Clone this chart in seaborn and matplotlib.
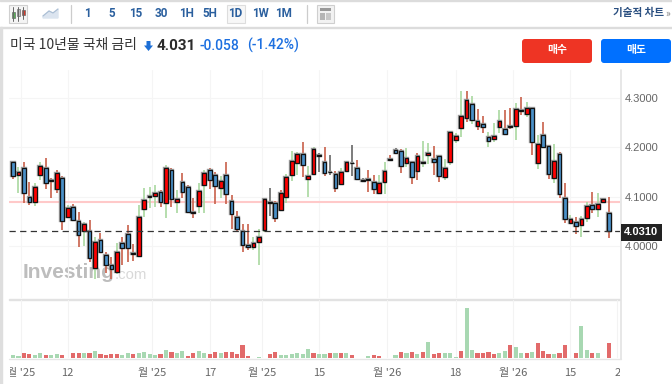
import matplotlib
matplotlib.use('Agg')
import matplotlib.pyplot as plt
import numpy as np
import pandas as pd
import seaborn as sns
from matplotlib.patches import FancyBboxPatch, Rectangle
from matplotlib.transforms import Bbox

# **************************************************************************

open_price = [
    4.170, 4.144, 4.159, 4.100, 4.089, 4.145, 4.159, 4.134, 4.115, 4.137,
    4.059, 4.079, 4.052, 4.032, 4.032, 3.957, 4.012, 3.982, 3.963, 3.949,
    4.007, 4.024, 3.986, 3.980, 4.075, 4.102, 4.102, 4.110, 4.087, 4.155,
    4.089, 4.130, 4.119, 4.070, 4.081, 4.123, 4.155, 4.145, 4.117, 4.145,
    4.092, 4.059, 4.032, 4.003, 3.998, 4.009, 4.034, 4.089, 4.088, 4.073,
    4.100, 4.145, 4.168, 4.186, 4.136, 4.147, 4.184, 4.171, 4.151, 4.147,
    4.126, 4.153, 4.169, 4.159, 4.134, 4.136, 4.130, 4.108, 4.130, 4.177,
    4.195, 4.192, 4.169, 4.171, 4.153, 4.170, 4.184, 4.176, 4.182, 4.139,
    4.170, 4.215, 4.238, 4.260, 4.288, 4.242, 4.247, 4.220, 4.217, 4.240,
    4.236, 4.243, 4.243, 4.275, 4.268, 4.280, 4.169, 4.224, 4.202, 4.137,
    4.186, 4.097, 4.048, 4.050, 4.044, 4.058, 4.083, 4.075, 4.089, 4.068,
]
high_price = [
    4.171, 4.161, 4.170, 4.129, 4.127, 4.170, 4.178, 4.137, 4.154, 4.141,
    4.083, 4.085, 4.070, 4.050, 4.053, 4.018, 4.026, 3.989, 3.979, 4.007,
    4.019, 4.043, 4.005, 4.083, 4.117, 4.120, 4.124, 4.114, 4.164, 4.159,
    4.114, 4.149, 4.124, 4.097, 4.127, 4.155, 4.159, 4.151, 4.142, 4.170,
    4.104, 4.071, 4.046, 4.045, 4.018, 4.036, 4.097, 4.117, 4.092, 4.114,
    4.147, 4.193, 4.191, 4.211, 4.162, 4.201, 4.189, 4.200, 4.184, 4.152,
    4.159, 4.172, 4.204, 4.175, 4.137, 4.154, 4.144, 4.145, 4.171, 4.184,
    4.198, 4.196, 4.198, 4.171, 4.188, 4.213, 4.208, 4.202, 4.182, 4.176,
    4.233, 4.228, 4.314, 4.314, 4.303, 4.277, 4.264, 4.230, 4.248, 4.275,
    4.275, 4.280, 4.289, 4.301, 4.292, 4.280, 4.225, 4.250, 4.204, 4.206,
    4.191, 4.128, 4.064, 4.060, 4.062, 4.089, 4.109, 4.107, 4.097, 4.100,
]
low_price = [
    4.136, 4.107, 4.088, 4.083, 4.081, 4.134, 4.115, 4.097, 4.107, 4.033,
    4.057, 4.054, 3.999, 4.001, 3.969, 3.935, 3.986, 3.947, 3.935, 3.945,
    3.962, 3.969, 3.971, 3.979, 4.060, 4.077, 4.079, 4.080, 4.057, 4.079,
    4.067, 4.097, 4.067, 4.058, 4.067, 4.067, 4.116, 4.085, 4.098, 4.085,
    4.036, 4.030, 3.989, 3.992, 3.992, 3.962, 4.028, 4.061, 4.050, 4.072,
    4.088, 4.131, 4.144, 4.139, 4.100, 4.147, 4.151, 4.143, 4.144, 4.110,
    4.124, 4.152, 4.141, 4.134, 4.132, 4.110, 4.106, 4.107, 4.106, 4.174,
    4.188, 4.149, 4.161, 4.125, 4.134, 4.161, 4.167, 4.144, 4.130, 4.134,
    4.164, 4.208, 4.221, 4.250, 4.246, 4.235, 4.229, 4.201, 4.210, 4.228,
    4.225, 4.236, 4.215, 4.265, 4.262, 4.184, 4.157, 4.199, 4.136, 4.127,
    4.098, 4.048, 4.046, 4.024, 4.019, 4.050, 4.067, 4.060, 4.088, 4.017,
]
close_price = [
    4.142, 4.151, 4.107, 4.090, 4.119, 4.162, 4.128, 4.131, 4.149, 4.052,
    4.077, 4.054, 4.023, 4.046, 3.977, 4.009, 3.988, 3.963, 3.954, 3.989,
    3.996, 3.997, 3.984, 4.059, 4.094, 4.100, 4.107, 4.090, 4.158, 4.095,
    4.095, 4.110, 4.069, 4.068, 4.112, 4.149, 4.133, 4.121, 4.131, 4.105,
    4.065, 4.036, 4.002, 3.998, 4.006, 4.019, 4.096, 4.087, 4.058, 4.108,
    4.139, 4.172, 4.186, 4.165, 4.142, 4.197, 4.182, 4.149, 4.150, 4.117,
    4.151, 4.170, 4.168, 4.135, 4.132, 4.134, 4.116, 4.128, 4.153, 4.175,
    4.189, 4.163, 4.179, 4.139, 4.183, 4.169, 4.188, 4.170, 4.141, 4.159,
    4.231, 4.223, 4.263, 4.295, 4.254, 4.252, 4.240, 4.212, 4.223, 4.252,
    4.227, 4.241, 4.277, 4.274, 4.279, 4.210, 4.206, 4.200, 4.146, 4.172,
    4.105, 4.056, 4.055, 4.042, 4.055, 4.081, 4.075, 4.085, 4.095, 4.031,
]
wick_kind = list(
    'rgrrggrrrr' 'grrgrgrrrg' 'rrrggggrgr' 'grrrggrrgr' 'rrrrgggkrr'
    'gggrggkrkr' 'grkrkrrggr' 'krgrrggrrg' 'gggrgrrggg' 'rrgrgrgrrg'
    'rrgrggrgrr'
)
volume = [
    9, 6, 14, 12, 9, 16, 9, 9, 11, 9,
    0, 16, 16, 16, 14, 22, 11, 9, 12, 12,
    9, 14, 12, 14, 19, 11, 9, 12, 24, 19,
    14, 22, 6, 16, 22, 14, 11, 19, 16, 17,
    19, 12, 38, 6, 0, 2, 0, 11, 17, 9,
    9, 12, 16, 11, 27, 14, 11, 11, 14, 14,
    14, 16, 9, 0, 0, 6, 9, 6, 0, 0,
    9, 19, 16, 19, 12, 19, 49, 12, 14, 16,
    16, 3, 22, 149, 24, 16, 16, 19, 11, 16,
    22, 40, 32, 16, 14, 19, 45, 22, 11, 11,
    16, 38, 0, 14, 96, 24, 14, 14, 0, 45,
]
volume_kind = list(
    'ggrrggrggr' 'grrgrgrrrr' 'ggrggggrgr' 'ggrrggrrgr' 'rrrrrggrrg'
    'gggggrggrg' 'rgrgggrrgg' 'grgrgrgrrg' 'ggrggrrrrg' 'grggrgrrrg'
    'rrgrggrggr'
)

tick_positions = [1.5, 10, 25.5, 36, 45.5, 56, 68.5, 81, 91.5, 102, 110.6]
tick_labels = ["월 '25", '12', "월 '25", '17', "월 '25", '15', "월 '26", '18', "월 '26", '15', '2']
price_ticks = [4.0, 4.1, 4.2, 4.3]
previous_close = 4.090
last_price = 4.031

toolbar_labels = ['1', '5', '15', '30', '1H', '5H', '1D', '1W', '1M']

# **************************************************************************


def draw_page(ax, kr):
    # top bar
    ax.add_patch(Rectangle((0, 0), 672, 1.2, color='#dcdcdc'))
    ax.add_patch(Rectangle((0, 26.5), 672, 1.2, color='#dcdcdc'))
    ax.add_patch(Rectangle((0, 27), 1.5, 357, color='#dedede'))
    for x in [70.5, 306.5]:
        ax.plot([x, x], [5, 23], color='#cccccc', lw=0.9)

    # candle icon
    ax.add_patch(Rectangle((9, 5), 18, 18, fc='#f4f4f4', ec='#d0d0d0', lw=0.8))
    for x, lo, hi, b0, b1, c in [(13, 7, 21, 12, 18, '#55b055'), (18, 7, 21, 9, 16, '#bbbbbb'), (23, 7, 19, 10, 15, '#d83a2a')]:
        ax.plot([x, x], [lo, hi], color='#666666', lw=0.7)
        ax.add_patch(Rectangle((x - 1.5, b0), 3, b1 - b0, fc=c, ec='#555555', lw=0.4))
    # area icon
    ax.fill([43, 49, 53, 58, 58, 43], [16, 11, 13, 9, 18, 18], color='#dbe4ef')
    ax.plot([43, 49, 53, 58], [16, 11, 13, 9], color='#a9bdd3', lw=0.8)
    # layout icon
    ax.add_patch(Rectangle((317, 5), 17, 18, fc='#f2f2f2', ec='#cfcfcf', lw=0.8))
    ax.add_patch(Rectangle((320, 8), 11, 3, fc='#999999', lw=0))
    ax.add_patch(Rectangle((320, 13), 5, 7, fc='#b5b5b5', lw=0))
    ax.add_patch(Rectangle((326, 13), 5, 7, fc='#c8c8c8', lw=0))

    ax.add_patch(Rectangle((226.5, 5), 18, 18, fc='#f7f7f7', ec='#dddddd', lw=0.8))
    for label, x in zip(toolbar_labels, [87, 112, 136, 161, 186, 210, 235, 260, 284]):
        ax.text(x, 13.5, label, color='#2a5f9e', fontsize=8.4, fontweight='bold', family='Roboto', ha='center', va='center')

    ax.text(613, 13, '기술적 차트', color='#2a4f80', fontsize=7.6, fontweight='bold', family=kr, va='center')
    ax.text(668, 14, '»', color='#777777', fontsize=7, va='center', ha='center')

    # title row
    ax.text(10, 45, '미국 10년물 국채 금리', color='#333333', fontsize=10, family=kr, va='center')
    ax.fill([146.5, 150.5, 150.5, 153, 148.5, 144, 146.5], [41, 41, 45.5, 45.5, 51, 45.5, 45.5], color='#1c6fd6', lw=0)
    ax.text(157, 45.5, '4.031', color='#2b2b2b', fontsize=11, fontweight='bold', family='Roboto', va='center')
    ax.text(200, 45.5, '-0.058', color='#1c6fe0', fontsize=10, family='Roboto', fontweight='medium', va='center')
    ax.text(247, 45.5, '(-1.42%)', color='#1c6fe0', fontsize=10, family='Roboto', fontweight='medium', va='center')

    # buttons
    for x, c, label in [(522, '#ee3424', '매수'), (601, '#0070ff', '매도')]:
        ax.add_patch(FancyBboxPatch((x + 3, 42), 64, 18, boxstyle='round,pad=3', fc=c, ec='none'))
        ax.text(x + 35, 50.5, label, color='white', fontsize=7.8, fontweight='bold', family=kr, ha='center', va='center')

    # watermark
    ax.text(23, 272, 'Investing', color='#bdbdbd', fontsize=15.1, fontweight='bold', family='Liberation Sans', va='center')
    ax.text(114.5, 275, '.com', color='#d8d8d8', fontsize=10.7, family='Liberation Sans', va='center')

    # panel frame
    ax.add_patch(Rectangle((9, 298.6), 611, 1.6, color='#e2e2e2'))
    ax.plot([620.5, 620.5], [70, 358.5], color='#e3e3e3', lw=1.2)
    ax.plot([9, 620.5], [358.5, 358.5], color='#e6e6e6', lw=1)


def draw_candles(ax, df):
    wick_colors = {'g': '#a9d8a0', 'r': '#c8604a', 'k': '#666666'}
    ax.vlines(df['i'], df['low'], df['high'], colors=[wick_colors[k] for k in df['wick']], lw=1.2, zorder=2)

    body_bottom = df[['open', 'close']].min(axis=1)
    body_height = (df['close'] - df['open']).abs()
    body_colors = ['#ff0000' if c > o else '#4a90c8' for o, c in zip(df['open'], df['close'])]
    ax.bar(df['i'], body_height, bottom=body_bottom, width=0.68, color=body_colors, edgecolor='#9a9a9a', lw=1.7, zorder=3)
    ax.bar(df['i'], body_height, bottom=body_bottom, width=0.68, color=body_colors, edgecolor='#111111', lw=0.9, zorder=4)


def run_viz():
    sns.set_theme(style='white')
    kr = ['Noto Sans CJK KR', 'DejaVu Sans']
    plt.rcParams['font.family'] = kr

    df = pd.DataFrame({
        'i': np.arange(len(open_price)),
        'open': open_price,
        'high': high_price,
        'low': low_price,
        'close': close_price,
        'wick': wick_kind,
        'volume': volume,
        'kind': volume_kind,
    })

    fig = plt.figure(figsize=(6.72, 3.84), dpi=100)

    page = fig.add_axes([0, 0, 1, 1], zorder=0)
    page.set_xlim(0, 672)
    page.set_ylim(384, 0)
    page.axis('off')
    draw_page(page, kr)

    # same x mapping for both panels
    xlim = (-0.732, 111.07)
    left = 9 / 672
    width = 611 / 672

    price_ax = fig.add_axes([left, 1 - 298 / 384, width, (298 - 70) / 384], zorder=1)
    price_ax.patch.set_alpha(0)
    draw_candles(price_ax, df)
    price_ax.axhline(previous_close, color='#ffc9c9', lw=1.5, zorder=1)
    price_ax.axhline(last_price + 0.001, color='#333333', lw=0.9, dashes=(5, 3.5), zorder=5)
    price_ax.set_xlim(xlim)
    price_ax.set_ylim(3.8958, 4.3559)
    price_ax.set_xticks(tick_positions[:-1])
    price_ax.set_xticklabels([])
    price_ax.set_yticks(price_ticks)
    price_ax.set_yticklabels(['%.4f' % t for t in price_ticks], family='Liberation Sans', fontsize=8, color='#666666')
    price_ax.yaxis.tick_right()
    price_ax.tick_params(axis='both', length=0, pad=3.5)
    price_ax.grid(True, color='#f5f5f5', lw=0.8)
    price_ax.set_axisbelow(True)
    sns.despine(ax=price_ax, left=True, bottom=True, top=True, right=True)

    # last price tag
    price_ax.annotate('%.4f' % last_price, xy=(1, last_price), xycoords=('axes fraction', 'data'),
                      xytext=(3, -1), textcoords='offset points', va='center', ha='left', color='white',
                      fontsize=8, fontweight='bold', family='Liberation Sans', annotation_clip=False,
                      bbox=dict(boxstyle='square,pad=0.3', fc='#222222', ec='none'), zorder=10)

    vol_ax = fig.add_axes([left, 1 - 358 / 384, width, (358 - 300) / 384], zorder=1)
    vol_ax.patch.set_alpha(0)
    sns.barplot(df, x='i', y='volume', hue='kind', palette={'r': '#e26a6a', 'g': '#a8d8b2'},
                dodge=False, width=0.76, saturation=1, linewidth=0, legend=False, ax=vol_ax, zorder=3)
    vol_ax.set_xlim(xlim)
    vol_ax.set_ylim(0, 174)
    vol_ax.set_xlabel('')
    vol_ax.set_ylabel('')
    vol_ax.set_yticks([])
    vol_ax.set_xticks(tick_positions)
    vol_ax.set_xticklabels(tick_labels, fontsize=8, color='#666666')
    vol_ax.tick_params(axis='x', length=0, pad=7.5)
    vol_ax.grid(True, axis='x', color='#f3f3f3', lw=0.8)
    vol_ax.set_axisbelow(True)
    sns.despine(ax=vol_ax, left=True, bottom=True, top=True, right=True)

    # labels are cut off by the panel edges in the original
    clip = Bbox([[10, 0], [620, 30]])
    for label in vol_ax.get_xticklabels():
        label.set_clip_box(clip)
        label.set_clip_on(True)

    fig.savefig('out.png', dpi=100)


# **************************************************************************


run_viz()
